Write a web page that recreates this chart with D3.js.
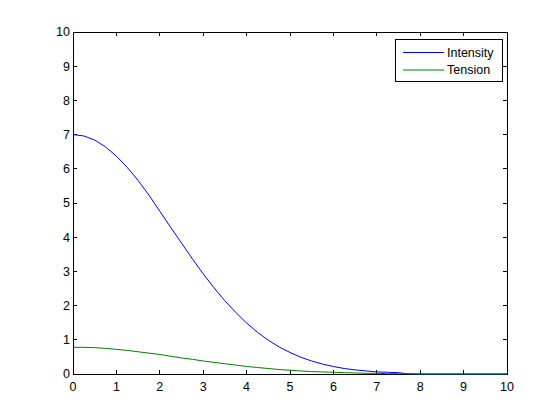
<!DOCTYPE html>
<html>
<head>
<meta charset="utf-8">
<script src="https://cdn.jsdelivr.net/npm/d3@7"></script>
<style>
    body { margin: 0; background: #fff; }
    svg text { font-family: "Liberation Sans", Arial, sans-serif; font-size: 12.5px; fill: #000; }
</style>
</head>
<body>
<div id="chart"></div>
<script>
// x samples (step 0.25) and the two series
const xValues = d3.range(0, 10.001, 0.25);
const intensity = [7.00, 6.96, 6.84, 6.64, 6.37, 6.04, 5.66, 5.23, 4.76, 4.29,
    3.83, 3.37, 2.93, 2.52, 2.14, 1.80, 1.49, 1.22, 0.99, 0.79,
    0.63, 0.49, 0.38, 0.29, 0.22, 0.16, 0.12, 0.09, 0.06, 0.05,
    0.04, 0, 0, 0, 0, 0, 0, 0, 0, 0, 0];
const tension = [0.78, 0.78, 0.77, 0.75, 0.72, 0.69, 0.65, 0.61, 0.57, 0.52,
    0.47, 0.43, 0.38, 0.34, 0.30, 0.26, 0.22, 0.19, 0.16, 0.13,
    0.11, 0.09, 0.07, 0.06, 0.05, 0.04, 0.03, 0.02, 0.02, 0.01,
    0.01, 0.01, 0, 0, 0, 0, 0, 0, 0, 0, 0];
const seriesNames = ["Intensity", "Tension"];
const seriesColors = ["#0000ff", "#008000"];
const xTicks = d3.range(0, 11, 1);
const yTicks = d3.range(0, 11, 1);

let margin = {top: 32, right: 53, bottom: 46, left: 73};
let width = 560 - margin.left - margin.right;
let height = 420 - margin.top - margin.bottom;

let svg = d3.select("#chart").append("svg")
    .attr("width", 560)
    .attr("height", 420)
    .append("g")
    .attr("transform", "translate(" + margin.left + "," + margin.top + ")");

let x = d3.scaleLinear().domain([0, 10]).range([0, width]);
let y = d3.scaleLinear().domain([0, 10]).range([height, 0]);

// MATLAB style box with inward ticks on all four sides
const tickLen = 4;
let axisG = svg.append("g");

axisG.append("rect")
    .attr("x", 0).attr("y", 0)
    .attr("width", width).attr("height", height)
    .attr("fill", "none")
    .attr("stroke", "#000")
    .attr("stroke-width", 1)
    .attr("shape-rendering", "crispEdges");

xTicks.forEach(function(t) {
    axisG.append("line")
        .attr("x1", x(t)).attr("x2", x(t))
        .attr("y1", height).attr("y2", height - tickLen)
        .attr("stroke", "#000").attr("shape-rendering", "crispEdges");
    axisG.append("line")
        .attr("x1", x(t)).attr("x2", x(t))
        .attr("y1", 0).attr("y2", tickLen)
        .attr("stroke", "#000").attr("shape-rendering", "crispEdges");
    axisG.append("text")
        .attr("x", x(t))
        .attr("y", height + 17)
        .attr("text-anchor", "middle")
        .text(t);
});

yTicks.forEach(function(t) {
    axisG.append("line")
        .attr("x1", 0).attr("x2", tickLen)
        .attr("y1", y(t)).attr("y2", y(t))
        .attr("stroke", "#000").attr("shape-rendering", "crispEdges");
    axisG.append("line")
        .attr("x1", width).attr("x2", width - tickLen)
        .attr("y1", y(t)).attr("y2", y(t))
        .attr("stroke", "#000").attr("shape-rendering", "crispEdges");
    axisG.append("text")
        .attr("x", -3)
        .attr("y", y(t))
        .attr("dy", "0.35em")
        .attr("text-anchor", "end")
        .text(t);
});

// the curves
let line = d3.line()
    .x(function(d) { return x(d[0]); })
    .y(function(d) { return y(d[1]); });

[intensity, tension].forEach(function(vals, i) {
    svg.append("path")
        .datum(xValues.map(function(xv, j) { return [xv, vals[j]]; }))
        .attr("fill", "none")
        .attr("stroke", seriesColors[i])
        .attr("stroke-width", 1)
        .attr("d", line);
});

// legend
let legend = svg.append("g")
    .attr("transform", "translate(" + (width - 112) + ",7)");

legend.append("rect")
    .attr("x", 0).attr("y", 0)
    .attr("width", 107).attr("height", 42)
    .attr("fill", "#fff")
    .attr("stroke", "#000")
    .attr("shape-rendering", "crispEdges");

seriesNames.forEach(function(name, i) {
    let ly = 13.5 + i * 17.5;
    legend.append("line")
        .attr("x1", 8).attr("x2", 49)
        .attr("y1", ly).attr("y2", ly)
        .attr("stroke", seriesColors[i]);
    legend.append("text")
        .attr("x", 52)
        .attr("y", ly)
        .attr("dy", "0.35em")
        .text(name);
});
</script>
</body>
</html>
